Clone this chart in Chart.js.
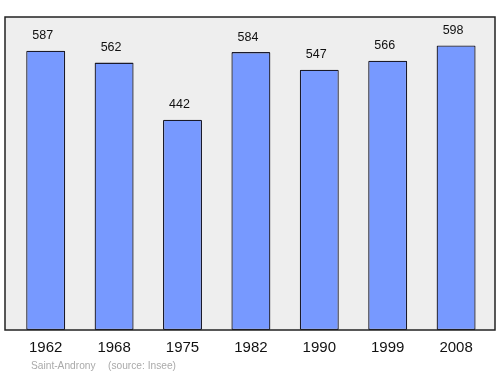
<!DOCTYPE html>
<html>
<head>
<meta charset="utf-8">
<script src="https://cdn.jsdelivr.net/npm/chart.js@4"></script>
<style>
  html, body { margin: 0; padding: 0; background: #fff; }
  #wrap { width: 500px; height: 374px; }
</style>
</head>
<body>
<div id="wrap"><canvas id="popChart"></canvas></div>
<script>
// data
const years = ['1962', '1968', '1975', '1982', '1990', '1999', '2008'];
const population = [587, 562, 442, 584, 547, 566, 598];
const place = 'Saint-Androny';
const source = '(source: Insee)';

// grey box behind the bars, a bit wider than the bar area
const boxPlugin = {
  id: 'box',
  beforeDatasetsDraw(chart) {
    const { ctx, chartArea: a } = chart;
    ctx.save();
    ctx.fillStyle = '#eeeeee';
    ctx.fillRect(5, a.top, 490, a.bottom - a.top);
    ctx.restore();
  },
  afterDatasetsDraw(chart) {
    const { ctx, chartArea: a } = chart;
    ctx.save();
    ctx.strokeStyle = '#222';
    ctx.lineWidth = 1.5;
    ctx.strokeRect(5, a.top, 490, a.bottom - a.top);
    ctx.restore();
  }
};

// value labels, year labels and source line
const labelPlugin = {
  id: 'labels',
  afterDraw(chart) {
    const { ctx, chartArea: a } = chart;
    const xs = chart.scales.x;
    const meta = chart.getDatasetMeta(0);
    ctx.save();
    ctx.textAlign = 'center';
    ctx.textBaseline = 'middle';
    ctx.fillStyle = '#111';
    ctx.font = '12.5px "Liberation Sans", Arial, sans-serif';
    meta.data.forEach((bar, i) => {
      ctx.fillText(population[i], bar.x - 3, bar.y - 15);
    });
    ctx.font = '15px "Liberation Sans", Arial, sans-serif';
    years.forEach((y, i) => {
      ctx.fillText(y, xs.getPixelForValue(i), a.bottom + 18);
    });
    ctx.textAlign = 'left';
    ctx.fillStyle = '#aaaaaa';
    ctx.font = '10.2px "Liberation Sans", Arial, sans-serif';
    ctx.fillText(place, 31, 366);
    ctx.fillText(source, 108, 366);
    ctx.restore();
  }
};

new Chart(document.getElementById('popChart'), {
  type: 'bar',
  data: {
    labels: years,
    datasets: [{
      data: population,
      backgroundColor: '#7799ff',
      borderColor: '#1a1a2a',
      borderWidth: 1.3,
      borderSkipped: false,
      borderRadius: 1,
      barPercentage: 0.57,
      categoryPercentage: 1
    }]
  },
  options: {
    responsive: true,
    maintainAspectRatio: false,
    animation: false,
    layout: { padding: { left: 11.5, right: 9.7, top: 17, bottom: 44 } },
    plugins: { legend: { display: false }, tooltip: { enabled: false } },
    scales: {
      x: { display: false },
      y: { display: false, min: 0, max: 657.8 }
    }
  },
  plugins: [boxPlugin, labelPlugin]
});
</script>
</body>
</html>
